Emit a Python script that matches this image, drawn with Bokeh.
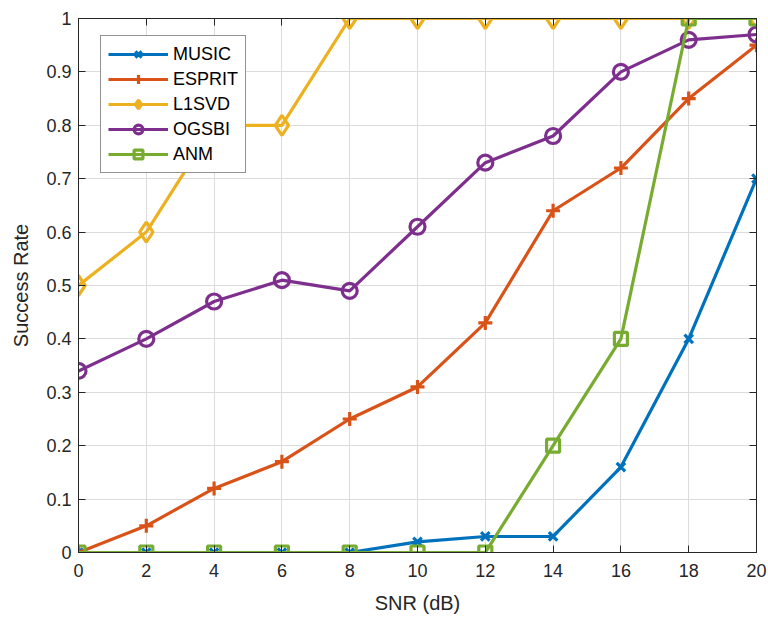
from bokeh.plotting import figure
from bokeh.models import FixedTicker, LinearAxis, Legend, LegendItem, Range1d
from bokeh.embed import file_html
from bokeh.resources import INLINE

snr = [0, 2, 4, 6, 8, 10, 12, 14, 16, 18, 20]
music = [0, 0, 0, 0, 0, 0.02, 0.03, 0.03, 0.16, 0.40, 0.70]
esprit = [0, 0.05, 0.12, 0.17, 0.25, 0.31, 0.43, 0.64, 0.72, 0.85, 0.95]
l1svd = [0.50, 0.60, 0.80, 0.80, 1, 1, 1, 1, 1, 1, 1]
ogsbi = [0.34, 0.40, 0.47, 0.51, 0.49, 0.61, 0.73, 0.78, 0.90, 0.96, 0.97]
anm = [0, 0, 0, 0, 0, 0, 0, 0.20, 0.40, 1, 1]

x_ticks = [0, 2, 4, 6, 8, 10, 12, 14, 16, 18, 20]
y_ticks = [0, 0.1, 0.2, 0.3, 0.4, 0.5, 0.6, 0.7, 0.8, 0.9, 1]
y_tick_labels = ["0", "0.1", "0.2", "0.3", "0.4", "0.5", "0.6", "0.7", "0.8", "0.9", "1"]

FONT = "Liberation Sans"
AX = "#262626"

p = figure(width=768, height=619, output_backend="svg", toolbar_location=None,
           x_range=Range1d(0, 20), y_range=Range1d(0, 1),
           min_border_left=78, min_border_right=12, min_border_top=18, min_border_bottom=67)
p.background_fill_color = "white"
p.border_fill_color = "white"
p.outline_line_color = AX
p.outline_line_width = 1

for ax in (p.xaxis[0], p.yaxis[0]):
    ax.axis_line_color = AX
    ax.major_tick_line_color = AX
    ax.major_tick_in = 7
    ax.major_tick_out = 0
    ax.minor_tick_line_color = None
    ax.major_label_text_font = FONT
    ax.major_label_text_font_size = "18px"
    ax.major_label_text_color = AX
    ax.axis_label_text_font = FONT
    ax.axis_label_text_font_size = "20px"
    ax.axis_label_text_font_style = "normal"
    ax.axis_label_text_color = AX

p.xaxis.ticker = FixedTicker(ticks=x_ticks)
p.yaxis.ticker = FixedTicker(ticks=y_ticks)
p.yaxis.major_label_overrides = {t: l for t, l in zip(y_ticks, y_tick_labels)}
p.xaxis.axis_label = "SNR (dB)"
p.yaxis.axis_label = "Success Rate"
p.xaxis.major_label_standoff = 11
p.yaxis.major_label_standoff = 7
p.xaxis.axis_label_standoff = 12
p.yaxis.axis_label_standoff = 11

for loc, ticks in (("above", x_ticks), ("right", y_ticks)):
    a = LinearAxis(ticker=FixedTicker(ticks=ticks),
                   major_label_overrides={t: "" for t in ticks},
                   axis_line_color=AX, major_tick_line_color=AX, major_tick_in=7,
                   major_tick_out=0, minor_tick_line_color=None, major_label_standoff=0)
    p.add_layout(a, loc)

p.xgrid.grid_line_color = "#dcdcdc"
p.ygrid.grid_line_color = "#dcdcdc"
p.xgrid.ticker = FixedTicker(ticks=x_ticks)
p.ygrid.ticker = FixedTicker(ticks=y_ticks)

LW = 3.2
items = []
series = [
    ("MUSIC", music, "#0072BD", "x"),
    ("ESPRIT", esprit, "#D95319", "cross"),
    ("L1SVD", l1svd, "#EDB120", "diamond"),
    ("OGSBI", ogsbi, "#7E2F8E", "circle"),
    ("ANM", anm, "#77AC30", "square"),
]
for name, ys, col, mk in series:
    r1 = p.line(snr, ys, line_color=col, line_width=LW)
    size = {"x": 12, "cross": 14, "diamond": 20, "circle": 15, "square": 13}[mk]
    r2 = p.scatter(snr, ys, marker=mk, size=size, line_color=col, line_width=LW,
                   fill_color=None)
    items.append(LegendItem(label=name, renderers=[r1, r2]))

leg = Legend(items=items, location=(22, 379))
leg.label_text_font = FONT
leg.label_text_font_size = "18px"
leg.label_text_color = "black"
leg.glyph_width = 60
leg.glyph_height = 22
leg.label_height = 22
leg.spacing = 3
leg.padding = 7
leg.margin = 0
leg.border_line_color = AX
leg.border_line_width = 1
leg.background_fill_color = "white"
leg.background_fill_alpha = 1
p.add_layout(leg)

open("out.html", "w").write(file_html(p, INLINE))
